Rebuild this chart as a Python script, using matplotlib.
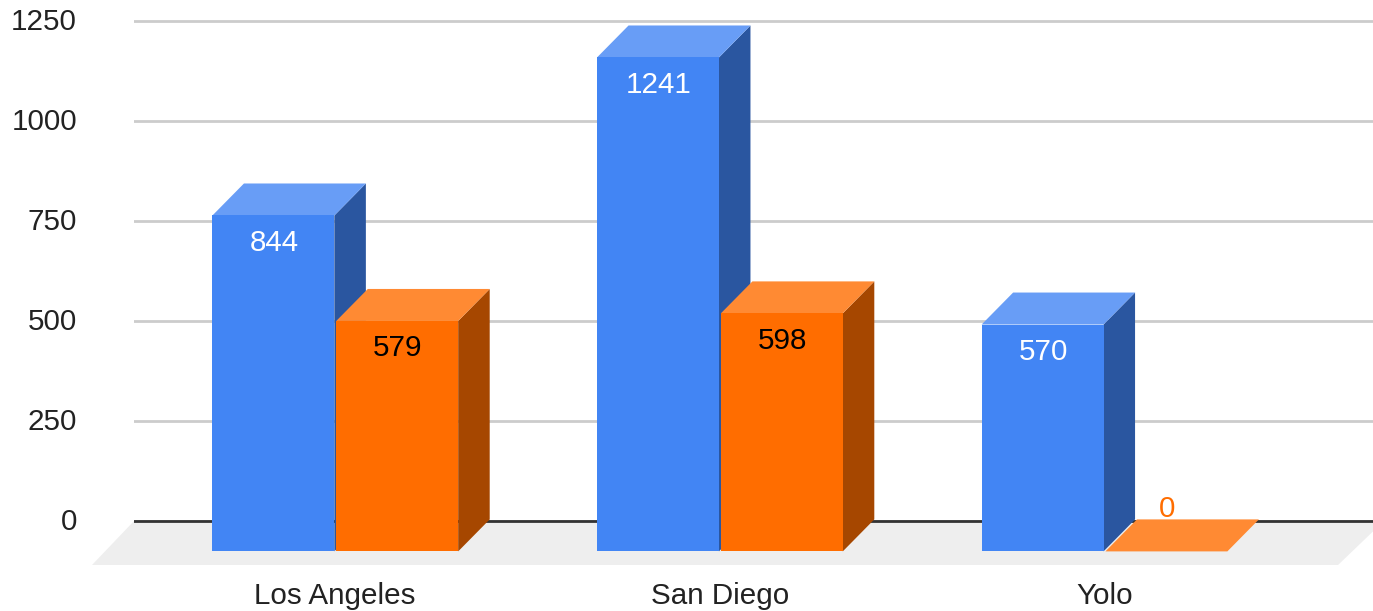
from matplotlib import pyplot as plt
from matplotlib.patches import Polygon
from matplotlib.transforms import ScaledTranslation

plt.rcParams['font.family'] = ['Liberation Sans', 'DejaVu Sans']

cities = ["Los Angeles", "San Diego", "Yolo"]
blue_values = [844, 1241, 570]
orange_values = [579, 598, 0]
y_ticks = [0, 250, 500, 750, 1000, 1250]

BAR_W = 0.317
DX = 0.082   # depth of the fake 3d, in category units
DY = 80      # depth of the fake 3d, in value units
BASE = -76   # front edge of the floor bars stand on
SCALE = 0.995  # front faces are a bit smaller than the back wall

fig = plt.figure(figsize=(13.73, 6.11), dpi=100)
ax = fig.add_axes([134 / 1373, 46 / 611, 1239 / 1373, 565 / 611])
ax.set_xlim(-0.5229, 2.6987)
ax.set_ylim(-110, 1302.5)


def bar3d(x0, value, front, side, top, label, label_color):
    x1 = x0 + BAR_W
    y1 = BASE + value * SCALE
    ax.add_patch(Polygon([(x1, BASE), (x1 + DX, BASE + DY), (x1 + DX, y1 + DY), (x1, y1)], color=side, lw=0, zorder=3))
    ax.add_patch(Polygon([(x0, y1), (x0 + DX, y1 + DY), (x1 + DX, y1 + DY), (x1, y1)], color=top, lw=0, zorder=3))
    if value > 0:
        ax.add_patch(Polygon([(x0, BASE), (x1, BASE), (x1, y1), (x0, y1)], color=front, lw=0, zorder=3))
        ax.text(x0 + BAR_W / 2 + 0.002, y1 - 68, label, color=label_color, fontsize=21.3, ha="center", va="center", zorder=5)
    else:
        ax.text(x0 + BAR_W / 2 + 0.002, y1 + DY + 25, label, color=label_color, fontsize=21.3, ha="center", va="center", zorder=5)


# floor, runs off the right edge of the picture
ax.add_patch(Polygon([(-0.6325, -110), (2.6078, -110), (2.727, 0), (-0.5229, 0)], color="#eeeeee", lw=0, clip_on=True, zorder=1))
ax.add_patch(Polygon([(-0.6325, -110), (-0.5229, -110), (-0.5229, 0)], color="#eeeeee", lw=0, clip_on=False, zorder=1))

for i in range(len(cities)):
    bar3d(i - BAR_W - 0.002, blue_values[i], "#4285f4", "#2a56a0", "#689df6", blue_values[i], "white")
    if orange_values[i] > 0:
        color = "black"
    else:
        color = "#ff6d00"
    bar3d(i + 0.003, orange_values[i], "#ff6d00", "#a64700", "#ff8a33", orange_values[i], color)

ax.set_yticks(y_ticks)
ax.set_xticks(range(len(cities)))
ax.set_xticklabels(cities)
ax.tick_params(axis="both", length=0, labelsize=21.3, colors="#222222")
ax.tick_params(axis="y", pad=41)
ax.tick_params(axis="x", pad=12)
# y labels sit slightly above their gridlines
for lab in ax.get_yticklabels():
    lab.set_transform(lab.get_transform() + ScaledTranslation(0, 1.5 / 100, fig.dpi_scale_trans))
ax.grid(axis="y", color="#cccccc", linewidth=2, zorder=0)
ax.axhline(0, color="#333333", linewidth=2, zorder=2)
ax.set_axisbelow(True)
for s in ax.spines.values():
    s.set_visible(False)
ax.patch.set_visible(False)

plt.savefig("out.png", dpi=100)
